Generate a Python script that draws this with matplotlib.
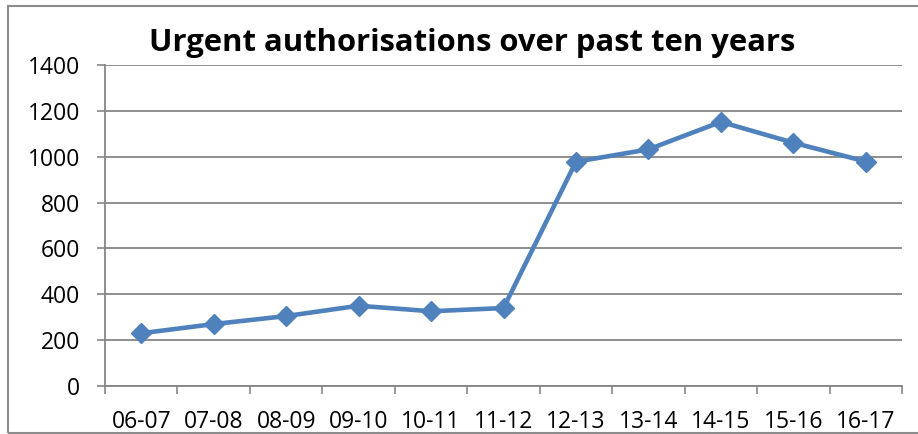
import numpy as np
import matplotlib.pyplot as plt
from matplotlib.patches import Rectangle

# Data
YEARS = ["06-07", "07-08", "08-09", "09-10", "10-11", "11-12",
         "12-13", "13-14", "14-15", "15-16", "16-17"]
URGENT = [230, 270, 305, 350, 326, 340, 978, 1032, 1152, 1061, 979]

LINE_COLOR = "#4F81BD"
GRID_COLOR = "#868686"

plt.rcParams["font.family"] = ["Open Sans", "DejaVu Sans"]

fig = plt.figure(figsize=(9.18, 4.34), dpi=100)
ax = fig.add_axes([105 / 918, 48 / 434, 797 / 918, 321 / 434])

x = np.arange(len(YEARS))
ax.plot(x, URGENT, color=LINE_COLOR, linewidth=3.3, marker="D",
        markersize=10.5, markerfacecolor=LINE_COLOR, markeredgecolor=LINE_COLOR,
        zorder=3, clip_on=False)

ax.set_xlim(-0.5, len(YEARS) - 0.5)
ax.set_ylim(0, 1400)
ax.set_yticks(np.arange(0, 1401, 200))

# ticks on category boundaries, labels at centres
ax.set_xticks(np.arange(-0.5, len(YEARS), 1.0))
ax.set_xticklabels([])
ax.set_xticks(x, minor=True)
ax.set_xticklabels(YEARS, minor=True)
ax.tick_params(axis="x", which="major", length=6, width=1.2, color=GRID_COLOR, direction="out")
ax.tick_params(axis="x", which="minor", length=0, pad=17.5, labelsize=16.5)
ax.tick_params(axis="y", length=6, width=1.2, color=GRID_COLOR, pad=12, labelsize=16.5)

ax.grid(True, axis="y", color=GRID_COLOR, linewidth=1.3)
ax.set_axisbelow(True)
for side in ["top", "right"]:
    ax.spines[side].set_visible(False)
for side in ["left", "bottom"]:
    ax.spines[side].set_color(GRID_COLOR)
    ax.spines[side].set_linewidth(1.3)

fig.text(0.514, 0.901, "Urgent authorisations over past ten years",
         ha="center", va="center", fontsize=22.3, fontweight="bold")

# outer chart frame (right edge runs off the picture)
fig.patches.append(Rectangle((8 / 918, 1.5 / 434), 1.0, 426.5 / 434, transform=fig.transFigure,
                             fill=False, edgecolor="#8C8C8C", linewidth=1.5))

fig.savefig("out.png", dpi=100)
